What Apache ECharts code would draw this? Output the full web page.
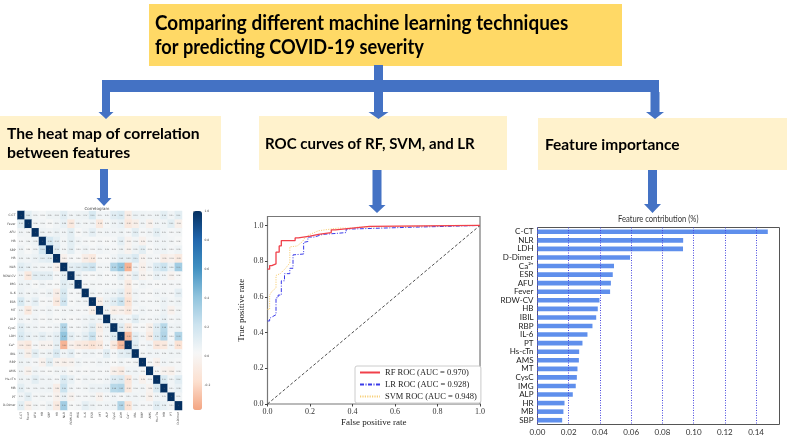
<!DOCTYPE html>
<html>
<head>
<meta charset="utf-8">
<style>html,body{margin:0;padding:0;background:#fff}#c{width:787px;height:437px}</style>
<script src="https://cdn.jsdelivr.net/npm/echarts@6/dist/echarts.min.js"></script>
</head>
<body>
<div id="c"></div>
<script>
// ---------- Heat map ----------
const heatLabels = ['C-CT','Fever','AFU','HB','SBP','HR','NLR','RDW-CV','IMG','IL-6','ESR','MT','ALP','CysC','LDH','Ca²⁺','IBIL','RBP','AMS','Hs-cTn','MB','PT','D-Dimer'];
// upper triangle of the correlation matrix, each row starts right after the diagonal
const corrUpper = [
 [.11,.05,.03,.06,.06,.12,.05,.06,.07,.16,.05,.05,.12,.15,-.06,.07,.06,.05,.06,.11,.05,.11],
 [.04,.04,.02,.05,.08,-.1,.05,.04,.05,-.1,.03,.06,.08,-.1,-.05,.05,-.03,.05,.05,.11,-.04],
 [.06,.05,.07,.05,.11,.02,.05,.1,.04,.05,.05,.06,.03,.11,.03,.05,.11,.05,.03,.04],
 [.18,.1,.04,.11,.05,.03,.02,.03,.02,.03,.1,-.02,.04,-.03,.03,.05,.05,.04,.02],
 [.12,.04,.11,.03,.06,.03,.05,.04,.03,.06,-.02,.06,.11,.02,.05,.06,.03,.06],
 [-.03,.03,.02,-.06,-.1,.02,.02,.05,.1,.09,.15,-.02,.04,.03,-.06,-.03,-.09],
 [.1,.12,.16,.2,.04,.04,.3,.4,-.32,.05,-.04,.05,.15,.22,.08,.35],
 [.08,.03,.02,.04,.02,.03,.1,-.03,.1,-.02,.01,.08,.05,-.02,.02],
 [.03,.04,.03,.03,.03,.05,-.08,.02,.05,.03,.02,.03,.03,.03],
 [.05,.03,.05,.06,.1,-.1,.05,.03,.02,.05,.04,.03,.1],
 [-.05,.07,.12,.22,-.15,.05,.03,.03,.04,.07,.04,.06],
 [.05,-.05,-.03,-.1,.03,.05,.03,.03,.07,-.03,.04],
 [.06,.05,.03,.12,.04,.03,.05,.08,.03,.05],
 [.12,-.1,.03,.02,-.04,.13,.28,.05,.06],
 [-.3,.1,.05,-.08,.15,.3,.03,.3],
 [.12,.03,.05,-.12,-.1,.05,-.15],
 [.04,.05,.05,.04,.05,.05],
 [.03,-.03,.05,.04,.03],
 [.03,-.02,-.04,.03],
 [.15,.05,.12],
 [.05,.08],
 [.05]
];
const heatColors = ['#f4a582','#fce0d0','#f6f7f7','#cce3ef','#8fc3dd','#4090c1','#2166ac','#053061'];
const colorbarTicks = [-0.2,0,0.2,0.4,0.6,0.8,1];

// ---------- ROC ----------
const rocTicks = [0,0.2,0.4,0.6,0.8,1];
const rfRoc = [[0,.755],[.01,.755],[.01,.775],[.02,.775],[.02,.785],[.04,.785],[.04,.85],[.055,.85],[.055,.885],[.065,.885],[.065,.915],[.13,.915],[.13,.93],[.145,.93],[.145,.94],[.2,.94],[.2,.95],[.24,.95],[.24,.96],[.3,.96],[.3,.975],[.32,.975],[.32,.985],[.4,.985],[.4,.995],[.48,.995],[.48,1],[1,1]];
const lrRoc = [[0,.465],[.01,.465],[.01,.48],[.025,.49],[.04,.5],[.04,.595],[.05,.595],[.05,.61],[.065,.61],[.065,.69],[.08,.69],[.08,.73],[.105,.73],[.105,.76],[.12,.76],[.12,.835],[.17,.84],[.17,.905],[.19,.91],[.19,.935],[.22,.935],[.22,.945],[.26,.95],[.32,.955],[.37,.96],[.37,.98],[.4,.98],[.4,.99],[.68,.99],[.68,.995],[.85,.995],[.85,1],[1,1]];
const svmRoc = [[0,.53],[.01,.53],[.01,.61],[.02,.63],[.04,.65],[.04,.72],[.06,.73],[.085,.76],[.105,.79],[.105,.88],[.14,.885],[.165,.91],[.175,.93],[.2,.95],[.24,.97],[.3,.98],[.33,.985],[.4,.985],[.42,.99],[.7,.995],[.85,1],[1,1]];
const chanceLine = [[0,0],[1,1]];

// ---------- Feature importance ----------
const featureNames = ['C-CT','NLR','LDH','D-Dimer','Ca²⁺','ESR','AFU','Fever','RDW-CV','HB','IBIL','RBP','IL-6','PT','Hs-cTn','AMS','MT','CysC','IMG','ALP','HR','MB','SBP'];
const featureValues = [.1475,.0933,.0932,.0593,.049,.0482,.047,.0465,.0397,.0386,.0376,.0352,.032,.0288,.0267,.0265,.0256,.0252,.0245,.0226,.0173,.0166,.0158];
const featureTicks = [0,.02,.04,.06,.08,.1,.12,.14];

// ---------- Flow chart text ----------
const mainTitle = ['Comparing different machine learning techniques','for predicting COVID-19 severity'];
const boxHeat = ['The heat map of correlation','between features'];
const boxRoc = 'ROC curves of RF, SVM, and LR';
const boxFeat = 'Feature importance';
const featTitle = 'Feature contribution (%)';

// ---------- build ----------
const n = heatLabels.length;
const heatData = [];
for (let i = 0; i < n; i++) {
  heatData.push([i, i, 1]);
  for (let j = i + 1; j < n; j++) {
    const v = corrUpper[i][j - i - 1];
    heatData.push([j, i, v]);
    heatData.push([i, j, v]);
  }
}
const BLUE = '#4472C4';
const rect = (x, y, w, h, fill) => ({type:'rect', silent:true, shape:{x,y,width:w,height:h}, style:{fill}});
const arrow = (cx, shaftW, y0, headY, tip, headW) => ({type:'polygon', silent:true, shape:{points:[
  [cx-shaftW/2,y0],[cx+shaftW/2,y0],[cx+shaftW/2,headY],[cx+headW/2,headY],[cx,tip],[cx-headW/2,headY],[cx-shaftW/2,headY]]}, style:{fill:BLUE}});
const label = (text, x, y, size, scaleX, weight, fill) => ({type:'text', silent:true, x, y, scaleX:scaleX||1, z:5, style:{text, fill:fill||'#000', font:(weight||'bold')+' '+size+'px Lato', textVerticalAlign:'middle'}});

const flow = [
  rect(149,4,473,62,'#FFD966'),
  rect(0,116,221,54,'#FFF2CC'),
  rect(259,116,248,54,'#FFF2CC'),
  rect(538,118,249,52,'#FFF2CC'),
  rect(374,65,9,20,BLUE),
  rect(102,80,557,12,BLUE),
  arrow(106,8,92,112,119,15),
  arrow(378.5,9,92,112,119,20),
  arrow(655,9,92,112,119,18),
  arrow(104,8,169,198,206,15),
  arrow(377,9,170,205,213,17),
  arrow(652.5,9,170,204,213,17),
  label(mainTitle[0],155,24,20,.945),
  label(mainTitle[1],155,48,20,.91),
  label(boxHeat[0],7,134,15.5,1.01),
  label(boxHeat[1],7,153,15.5,1.02),
  label(boxRoc,265,144,15.5,.97),
  label(boxFeat,545,145,15.5),
  label(featTitle,618,219,9.5,.8,'normal','#333')
];

const serif = 'Liberation Serif';
const narrow = '"Liberation Sans Narrow", Lato';
const option = {
  animation:false,
  backgroundColor:'#fff',
  title:[
    {text:'Correlogram',left:97,top:207,padding:0,textAlign:'center',textStyle:{fontSize:4,fontWeight:'normal',color:'#444',fontFamily:'DejaVu Sans'}}
  ],
  graphic:flow,
  legend:{
    data:['RF ROC (AUC = 0.970)','LR ROC (AUC = 0.928)','SVM ROC (AUC = 0.948)'],
    orient:'vertical',left:355,top:366,itemWidth:20,itemHeight:6,itemGap:3,padding:[2,4,2,4],
    backgroundColor:'#fff',borderColor:'#ccc',borderWidth:1,borderRadius:2,
    itemStyle:{opacity:0},
    textStyle:{fontFamily:serif,fontSize:8.5,color:'#222'}
  },
  grid:[
    {left:12,top:211,width:170,height:199},
    {left:193,top:211,width:9,height:199},
    {left:267.5,top:216.5,width:212.5,height:187.5,show:true,borderColor:'#777',borderWidth:1.2,backgroundColor:'#fff'},
    {left:537.5,top:227.5,width:242,height:197,show:true,borderColor:'#555',borderWidth:1,backgroundColor:'#fff'}
  ],
  visualMap:{
    type:'continuous',min:-0.37,max:1,seriesIndex:0,calculable:false,left:193,top:211,itemWidth:9,itemHeight:199,
    text:['',''],textGap:0,padding:0,inRange:{color:heatColors},showLabel:false,textStyle:{fontSize:1}
  },
  xAxis:[
    {gridIndex:0,type:'category',data:heatLabels,splitArea:{show:false},
      axisLine:{show:false},axisTick:{length:1,lineStyle:{color:'#666',width:.5},alignWithLabel:false,interval:0},
      axisLabel:{rotate:90,interval:0,fontSize:3,margin:2,color:'#444',fontFamily:'DejaVu Sans'}},
    {gridIndex:1,type:'value',show:false,min:0,max:1},
    {gridIndex:2,type:'value',min:0,max:1,splitLine:{show:false},
      axisLine:{show:false},axisTick:{length:2.5,customValues:rocTicks,lineStyle:{color:'#444'}},
      axisLabel:{customValues:rocTicks,fontFamily:serif,fontSize:8,color:'#333',margin:4,formatter:v=>v.toFixed(1)},
      name:'False positive rate',nameLocation:'middle',nameGap:14,nameTextStyle:{fontFamily:serif,fontSize:9,color:'#222'}},
    {gridIndex:3,type:'value',min:0,max:.155,z:3,
      splitLine:{show:true,lineStyle:{type:[1,1.5],color:'#4a4ae0',width:1}},
      axisLine:{show:false},axisTick:{length:2.5,customValues:featureTicks,lineStyle:{color:'#444'}},
      axisLabel:{customValues:featureTicks,fontFamily:narrow,fontSize:8,color:'#333',margin:4,formatter:v=>v.toFixed(2)}}
  ],
  yAxis:[
    {gridIndex:0,type:'category',data:heatLabels,inverse:true,
      axisLine:{show:false},axisTick:{length:1,lineStyle:{color:'#666',width:.5},interval:0},
      axisLabel:{interval:0,fontSize:3,margin:2,color:'#444',fontFamily:'DejaVu Sans'}},
    {gridIndex:1,type:'value',position:'right',min:-0.37,max:1,splitLine:{show:false},
      axisLine:{show:false},axisTick:{length:1,customValues:colorbarTicks,lineStyle:{color:'#666',width:.5}},
      axisLabel:{customValues:colorbarTicks,fontSize:3,margin:2.5,color:'#444',fontFamily:'DejaVu Sans',formatter:v=>v.toFixed(1)}},
    {gridIndex:2,type:'value',min:0,max:1.05,splitLine:{show:false},
      axisLine:{show:false},axisTick:{length:2.5,customValues:rocTicks,lineStyle:{color:'#444'}},
      axisLabel:{customValues:rocTicks,fontFamily:serif,fontSize:8,color:'#333',margin:4,formatter:v=>v.toFixed(1)},
      name:'True positive rate',nameLocation:'middle',nameRotate:90,nameGap:21,nameTextStyle:{fontFamily:serif,fontSize:9,color:'#222'}},
    {gridIndex:3,type:'category',data:featureNames,inverse:true,
      axisLine:{show:false},axisTick:{length:2.5,alignWithLabel:true,interval:0,lineStyle:{color:'#444'}},
      axisLabel:{interval:0,fontFamily:narrow,fontSize:8,color:'#222',margin:4}}
  ],
  series:[
    {type:'heatmap',xAxisIndex:0,yAxisIndex:0,data:heatData,
      label:{show:true,fontSize:1.8,color:'#666',fontFamily:'DejaVu Sans',formatter:p=>p.value[2]===1?'1':p.value[2].toFixed(2)},
      itemStyle:{borderWidth:0}},
    {type:'line',name:'RF ROC (AUC = 0.970)',xAxisIndex:2,yAxisIndex:2,data:rfRoc,showSymbol:false,symbol:'none',z:5,lineStyle:{color:'#f0404a',width:1.3}},
    {type:'line',name:'LR ROC (AUC = 0.928)',xAxisIndex:2,yAxisIndex:2,data:lrRoc,showSymbol:false,symbol:'none',z:4,lineStyle:{color:'#3a3ae8',width:1,type:[4,1.5,1,1.5]}},
    {type:'line',name:'SVM ROC (AUC = 0.948)',xAxisIndex:2,yAxisIndex:2,data:svmRoc,showSymbol:false,symbol:'none',z:3,lineStyle:{color:'#f7cf78',width:1,type:[1.2,1.2]}},
    {type:'line',name:'chance',xAxisIndex:2,yAxisIndex:2,data:chanceLine,showSymbol:false,symbol:'none',z:2,lineStyle:{color:'#222',width:.8,type:[3,2]}},
    {type:'bar',name:'Feature contribution',xAxisIndex:3,yAxisIndex:3,data:featureValues,barWidth:4.6,itemStyle:{color:'#5f8fec'},z:2}
  ]
};
const chart = echarts.init(document.getElementById('c'),null,{renderer:'canvas',width:787,height:437});
chart.setOption(option);
</script>
</body>
</html>
